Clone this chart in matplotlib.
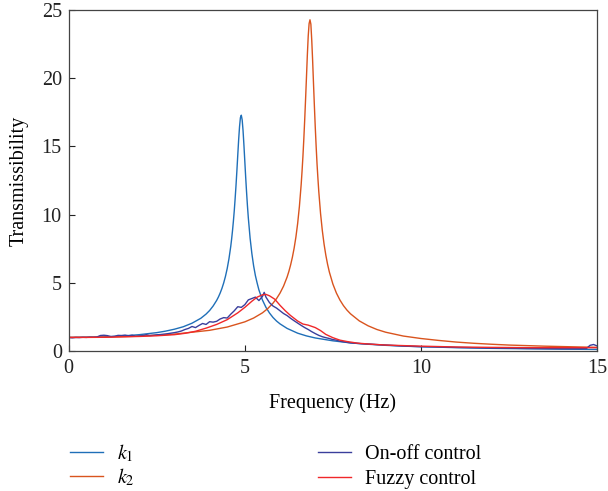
import matplotlib
matplotlib.use("Agg")
import matplotlib.pyplot as plt

plt.rcParams['font.family'] = ['Liberation Serif', 'DejaVu Serif']
plt.rcParams['mathtext.fontset'] = 'stix'

# k1 passive response
freq_k1 = [0, 0.5, 1, 1.5, 2, 2.5, 2.75, 3, 3.25, 3.5, 3.75, 3.9, 4, 4.1, 4.2, 4.25,
           4.3, 4.35, 4.4, 4.45, 4.5, 4.55, 4.6, 4.625, 4.65, 4.675, 4.7, 4.725,
           4.75, 4.775, 4.8, 4.825, 4.85, 4.875, 4.9, 4.925, 4.95, 4.975, 5.0,
           5.025, 5.05, 5.075, 5.1, 5.15, 5.2, 5.25, 5.3, 5.35, 5.4, 5.5, 5.6,
           5.7, 5.8, 5.9, 6, 6.2, 6.5, 6.75, 7, 7.5, 8, 8.5, 9, 9.5, 10, 11, 12,
           13, 14, 15]
trans_k1 = [1.00, 1.01, 1.04, 1.10, 1.20, 1.35, 1.46, 1.60, 1.78, 2.04, 2.40, 2.71,
            2.97, 3.30, 3.71, 3.96, 4.25, 4.59, 4.99, 5.47, 6.05, 6.77, 7.66, 8.20,
            8.81, 9.50, 10.27, 11.17, 12.14, 13.22, 14.37, 15.49, 16.44, 17.10,
            17.28, 16.93, 16.14, 15.07, 13.89, 12.71, 11.62, 10.62, 9.74, 8.27,
            7.14, 6.24, 5.53, 4.98, 4.48, 3.74, 3.20, 2.79, 2.46, 2.20, 1.99, 1.66,
            1.31, 1.11, 0.96, 0.75, 0.60, 0.50, 0.42, 0.36, 0.32, 0.25, 0.20, 0.17,
            0.14, 0.12]

# k2 passive response
freq_k2 = [0, 1, 2, 3, 4, 4.5, 5, 5.25, 5.5, 5.65, 5.8, 5.9, 6, 6.1, 6.2, 6.25, 6.3,
           6.35, 6.4, 6.45, 6.5, 6.55, 6.6, 6.625, 6.65, 6.675, 6.7, 6.725, 6.75,
           6.775, 6.8, 6.825, 6.85, 6.875, 6.9, 6.925, 6.95, 6.975, 7.0, 7.025,
           7.05, 7.075, 7.1, 7.15, 7.2, 7.25, 7.3, 7.35, 7.4, 7.5, 7.6, 7.7, 7.8,
           7.9, 8, 8.25, 8.5, 8.75, 9, 9.5, 10, 10.5, 11, 11.5, 12, 12.5, 13, 13.5,
           14, 14.5, 15]
trans_k2 = [1.00, 1.02, 1.09, 1.24, 1.52, 1.76, 2.14, 2.42, 2.80, 3.11, 3.51, 3.84,
            4.25, 4.76, 5.42, 5.83, 6.31, 6.87, 7.54, 8.35, 9.35, 10.61, 12.21,
            13.19, 14.28, 15.54, 16.94, 18.46, 20.06, 21.68, 23.08, 23.99, 24.27,
            23.95, 22.78, 21.29, 19.59, 17.95, 16.39, 14.99, 13.72, 12.66, 11.68,
            10.08, 8.83, 7.83, 7.02, 6.35, 5.79, 4.91, 4.25, 3.74, 3.33, 3.00, 2.73,
            2.21, 1.85, 1.58, 1.38, 1.10, 0.92, 0.78, 0.66, 0.57, 0.50, 0.44, 0.40,
            0.36, 0.33, 0.30, 0.27]

# on-off control (measured, noisy)
freq_onoff = [0.0, 0.1, 0.2, 0.3, 0.4, 0.5, 0.6, 0.7, 0.8, 0.9, 1.0, 1.1, 1.2, 1.3,
              1.4, 1.5, 1.6, 1.7, 1.8, 1.9, 2.0, 2.1, 2.2, 2.3, 2.4, 2.5, 2.6, 2.7,
              2.8, 2.9, 3.0, 3.1, 3.2, 3.3, 3.4, 3.5, 3.6, 3.7, 3.8, 3.9, 4.0, 4.1,
              4.2, 4.3, 4.4, 4.5, 4.6, 4.7, 4.8, 4.9, 5.0, 5.1, 5.2, 5.3, 5.4, 5.5,
              5.55, 5.6, 5.7, 5.8, 5.9, 6.0, 6.1, 6.2, 6.3, 6.4, 6.5, 6.6, 6.7, 6.8,
              6.9, 7.0, 7.1, 7.2, 7.3, 7.4, 7.5, 7.6, 7.7, 7.8, 7.9, 8.0, 8.3, 8.6,
              9.0, 9.3, 9.6, 10.0, 10.4, 10.8, 11.2, 11.6, 12.0, 12.5, 13.0, 13.5,
              14.0, 14.5, 14.7, 14.8, 14.9, 15.0]
trans_onoff = [1.00, 0.97, 1.00, 0.99, 1.01, 1.00, 1.02, 1.01, 1.03, 1.14, 1.16, 1.13,
               1.06, 1.08, 1.15, 1.14, 1.17, 1.12, 1.16, 1.09, 1.11, 1.13, 1.20, 1.14,
               1.16, 1.19, 1.21, 1.24, 1.27, 1.31, 1.35, 1.40, 1.47, 1.58, 1.66, 1.80,
               1.72, 1.88, 2.02, 1.95, 2.15, 2.12, 2.18, 2.35, 2.45, 2.42, 2.70, 2.95,
               3.25, 3.20, 3.40, 3.75, 3.85, 3.95, 3.70, 4.00, 4.30, 3.95, 3.55, 3.30,
               3.15, 2.95, 2.75, 2.60, 2.40, 2.22, 2.05, 1.88, 1.72, 1.58, 1.42, 1.28,
               1.15, 1.05, 0.98, 0.92, 0.84, 0.80, 0.72, 0.68, 0.64, 0.60, 0.54, 0.50,
               0.44, 0.40, 0.36, 0.32, 0.31, 0.28, 0.26, 0.24, 0.22, 0.21, 0.19, 0.18,
               0.17, 0.17, 0.19, 0.42, 0.48, 0.38]

# fuzzy control
freq_fuzzy = [0.0, 0.5, 1.0, 1.5, 2.0, 2.5, 3.0, 3.3, 3.6, 3.9, 4.2, 4.5, 4.8, 5.0,
              5.2, 5.35, 5.5, 5.6, 5.7, 5.85, 6.0, 6.15, 6.3, 6.5, 6.65, 6.8, 7.0,
              7.15, 7.3, 7.5, 7.7, 7.9, 8.2, 8.6, 9.0, 9.5, 10.0, 10.5, 11.0, 12.0,
              13.0, 14.0, 15.0]
trans_fuzzy = [1.00, 1.00, 1.01, 1.04, 1.07, 1.12, 1.20, 1.30, 1.45, 1.68, 1.95, 2.30,
               2.80, 3.20, 3.65, 3.95, 4.12, 4.15, 4.05, 3.80, 3.35, 2.95, 2.60, 2.20,
               1.98, 1.90, 1.72, 1.50, 1.22, 0.98, 0.80, 0.70, 0.58, 0.50, 0.44, 0.40,
               0.36, 0.33, 0.30, 0.27, 0.25, 0.25, 0.25]

FS = 14.5

fig = plt.figure(figsize=(6.08, 4.91), dpi=100)
ax = fig.add_axes([0.113, 0.285, 0.869, 0.695])

l1, = ax.plot(freq_k1, trans_k1, color='#1f6fb8', lw=1.0, label='$k_1$')
l2, = ax.plot(freq_k2, trans_k2, color='#d9541e', lw=1.0, label='$k_2$')
l3, = ax.plot(freq_onoff, trans_onoff, color='#3a3f9c', lw=1.0, label='On-off control')
l4, = ax.plot(freq_fuzzy, trans_fuzzy, color='#f0282a', lw=1.0, label='Fuzzy control')

ax.set_xlim(0, 15)
ax.set_ylim(0, 25)
ax.set_xticks([0, 5, 10, 15])
ax.set_yticks([0, 5, 10, 15, 20, 25])
ax.tick_params(direction='in', length=4, labelsize=FS, colors='#222222')
ax.tick_params(axis='x', pad=6)
ax.tick_params(axis='y', pad=5)
for s in ax.spines.values():
    s.set_color('#444444')
    s.set_linewidth(0.9)
ax.set_xlabel('Frequency (Hz)', fontsize=FS, labelpad=11)
ax.set_ylabel('Transmissibility', fontsize=FS, labelpad=9)

leg_kw = dict(frameon=False, fontsize=FS, handlelength=1.65, handletextpad=0.7,
              loc='upper left', borderaxespad=0, borderpad=0)
fig.legend(handles=[l1, l2], labelspacing=0.1,
           bbox_to_anchor=(0.115, 0.099), **leg_kw)
fig.legend(handles=[l3, l4], labelspacing=0.32,
           bbox_to_anchor=(0.523, 0.094), **leg_kw)

fig.savefig('out.png', dpi=100)
